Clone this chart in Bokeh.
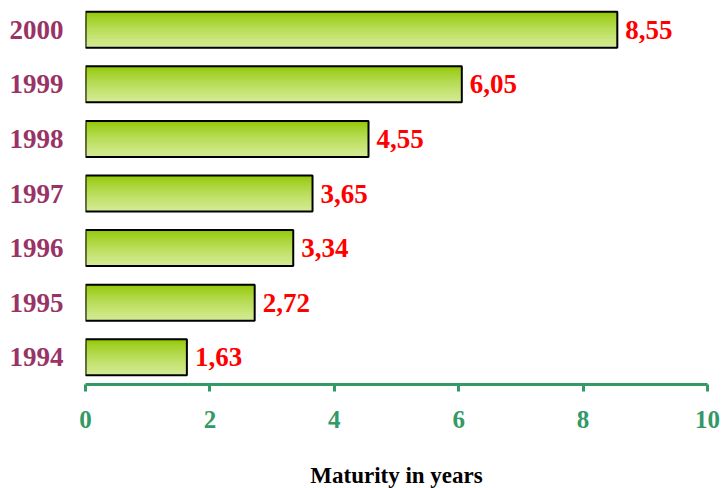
from bokeh.plotting import figure
from bokeh.models import Range1d, FixedTicker, ColumnDataSource, Title
from bokeh.core.properties import value
from bokeh.embed import file_html
from bokeh.resources import INLINE

# Average maturity by year
years = ["1994", "1995", "1996", "1997", "1998", "1999", "2000"]
maturity = [1.63, 2.72, 3.34, 3.65, 4.55, 6.05, 8.55]
x_ticks = [0, 2, 4, 6, 8, 10]
x_title = "Maturity in years"

FONT = "Liberation Serif"
BAR_H = 0.66
N_STRIPS = 16


def blend(c1, c2, t):
    r = round(c1[0] + (c2[0] - c1[0]) * t)
    g = round(c1[1] + (c2[1] - c1[1]) * t)
    b = round(c1[2] + (c2[2] - c1[2]) * t)
    return "#%02x%02x%02x" % (r, g, b)


TOP = (146, 200, 4)
BOTTOM = (212, 235, 148)

p = figure(width=722, height=488, output_backend="svg", toolbar_location=None,
           x_range=Range1d(0, 10), y_range=Range1d(-0.5, 6.5),
           min_border_left=85, min_border_right=15, min_border_top=2,
           min_border_bottom=104)
p.outline_line_color = None
p.grid.visible = False
p.background_fill_color = "white"

idx = list(range(len(years)))

# vertical gradient inside each bar: each strip runs from its own top edge
# down to the bar bottom, later (lighter) strips painted over earlier ones
st, sb, sr, sc = [], [], [], []
strip_h = BAR_H / N_STRIPS
for i, v in zip(idx, maturity):
    for k in range(N_STRIPS):
        t = k / (N_STRIPS - 1)
        st.append(i + BAR_H / 2 - k * strip_h)
        sb.append(i - BAR_H / 2)
        sr.append(v)
        sc.append(blend(TOP, BOTTOM, t ** 0.75))
p.quad(left=0, right=sr, top=st, bottom=sb, fill_color=sc, line_color=None)

# bar outlines
src = ColumnDataSource(dict(y=idx, v=maturity,
                            lab=[f"{m:.2f}".replace(".", ",") for m in maturity]))
p.hbar(y="y", left=0, right="v", height=BAR_H, source=src,
       fill_alpha=0, line_color="black", line_width=2)

# value labels
p.text(x="v", y="y", text="lab", source=src, x_offset=8,
       text_font=value(FONT), text_font_style="bold", text_font_size="27px",
       text_color="#ff0000", text_align="left", text_baseline="middle")

# x axis
xa = p.xaxis[0]
xa.ticker = FixedTicker(ticks=x_ticks)
xa.minor_tick_line_color = None
xa.axis_line_color = "#339966"
xa.axis_line_width = 3
xa.major_tick_line_color = "#339966"
xa.major_tick_line_width = 3
xa.major_tick_in = 0
xa.major_tick_out = 7
xa.major_label_standoff = 19
xa.major_label_text_font = FONT
xa.major_label_text_font_style = "bold"
xa.major_label_text_font_size = "25px"
xa.major_label_text_color = "#339966"

# axis title under the tick labels; the leading blank line leaves the gap
p.add_layout(Title(text="\n" + x_title, align="center", vertical_align="bottom",
                   text_font=FONT, text_font_style="bold",
                   text_font_size="23px", text_line_height=1.2,
                   text_color="black", standoff=0), "below")

# y axis: year labels only
ya = p.yaxis[0]
ya.ticker = FixedTicker(ticks=idx)
ya.major_label_overrides = {i: y for i, y in zip(idx, years)}
ya.axis_line_color = None
ya.major_tick_line_color = None
ya.minor_tick_line_color = None
ya.major_label_standoff = 16
ya.major_label_text_font = FONT
ya.major_label_text_font_style = "bold"
ya.major_label_text_font_size = "27px"
ya.major_label_text_color = "#993366"

open("out.html", "w").write(file_html(p, INLINE))
